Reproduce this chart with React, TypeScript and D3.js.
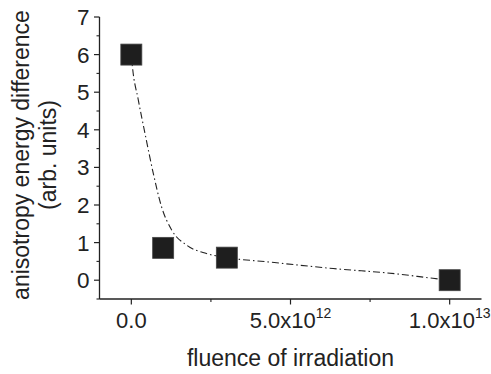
import React from "react";
import * as d3 from "d3";

const fluence = [0, 1e12, 3e12, 1e13];
const anisotropy = [6.0, 0.86, 0.6, 0.0];

const fitFluence = [0, 0.03e12, 0.22e12, 0.43e12, 0.69e12, 0.95e12, 1.27e12, 1.74e12, 2.36e12, 3.0e12, 4.25e12, 6.34e12, 8.43e12, 9.47e12, 1e13];
const fitValues = [6.0, 5.72, 4.79, 3.9, 2.84, 1.95, 1.33, 0.93, 0.71, 0.6, 0.49, 0.31, 0.16, 0.05, 0.0];

const yTicks = [0, 1, 2, 3, 4, 5, 6, 7];
const yMinorTicks = [-0.5, 0.5, 1.5, 2.5, 3.5, 4.5, 5.5, 6.5];
const xTicks = [0, 5e12, 1e13];
const xMinorTicks = [2.5e12, 7.5e12];
const xTickBase = ["0.0", "5.0x10", "1.0x10"];
const xTickExp = ["", "12", "13"];

const W = 491;
const H = 374;
const left = 99.5;
const right = 481.5;
const top = 17;
const bottom = 299;
const ink = "#222";
const font = "Liberation Sans, Arial, sans-serif";

export default function App() {
  const x = d3.scaleLinear().domain([-1e12, 1.1e13]).range([left, right]);
  const y = d3.scaleLinear().domain([-0.5, 7]).range([bottom, top]);
  const fitPts: [number, number][] = fitFluence.map((f, i) => [f, fitValues[i]]);
  const line = d3
    .line<[number, number]>()
    .x((d) => x(d[0]))
    .y((d) => y(d[1]))
    .curve(d3.curveMonotoneX);
  const sq = 21;
  return (
    <svg
      width={W}
      height={H}
      style={{ position: "absolute", left: 0, top: 0, background: "#fff" }}
      fontFamily={font}
    >
      <rect x={0} y={0} width={W} height={H} fill="#fff" />
      <path
        d={line(fitPts) || ""}
        fill="none"
        stroke={ink}
        strokeWidth={1.1}
        strokeDasharray="7 3 1.5 3"
      />
      {fluence.map((f, i) => (
        <rect
          key={i}
          x={x(f) - sq / 2}
          y={y(anisotropy[i]) - sq / 2}
          width={sq}
          height={sq}
          fill="#1e1e1e"
          stroke="#444"
          strokeWidth={0.8}
        />
      ))}
      <line x1={left} x2={left} y1={y(7)} y2={bottom} stroke={ink} strokeWidth={1.3} />
      <line x1={left} x2={right} y1={bottom} y2={bottom} stroke={ink} strokeWidth={1.3} />
      {yTicks.map((t) => (
        <g key={"y" + t}>
          <line x1={left - 5.5} x2={left} y1={y(t)} y2={y(t)} stroke={ink} strokeWidth={1.2} />
          <text x={left - 10} y={y(t) + 8} textAnchor="end" fontSize={22.5} fill={ink}>
            {t}
          </text>
        </g>
      ))}
      {yMinorTicks.map((t) => (
        <line key={"ym" + t} x1={left - 3} x2={left} y1={y(t)} y2={y(t)} stroke={ink} strokeWidth={1.1} />
      ))}
      {xTicks.map((t, i) => (
        <g key={"x" + t}>
          <line x1={x(t)} x2={x(t)} y1={bottom} y2={bottom + 5.5} stroke={ink} strokeWidth={1.2} />
          <text x={x(t)} y={327.5} textAnchor="middle" fontSize={22} fill={ink}>
            {xTickBase[i]}
            {xTickExp[i] ? (
              <tspan fontSize={14} dy={-10}>
                {xTickExp[i]}
              </tspan>
            ) : null}
          </text>
        </g>
      ))}
      {xMinorTicks.map((t) => (
        <line key={"xm" + t} x1={x(t)} x2={x(t)} y1={bottom} y2={bottom + 3} stroke={ink} strokeWidth={1.1} />
      ))}
      <text x={(left + right) / 2} y={366} textAnchor="middle" fontSize={23} fill={ink}>
        fluence of irradiation
      </text>
      <g transform={`translate(28.5, ${(top + bottom) / 2 - 3}) rotate(-90)`}>
        <text x={0} y={0} textAnchor="middle" fontSize={23} fill={ink}>
          anisotropy energy difference
        </text>
        <text x={0} y={27.5} textAnchor="middle" fontSize={23} fill={ink}>
          (arb. units)
        </text>
      </g>
    </svg>
  );
}
